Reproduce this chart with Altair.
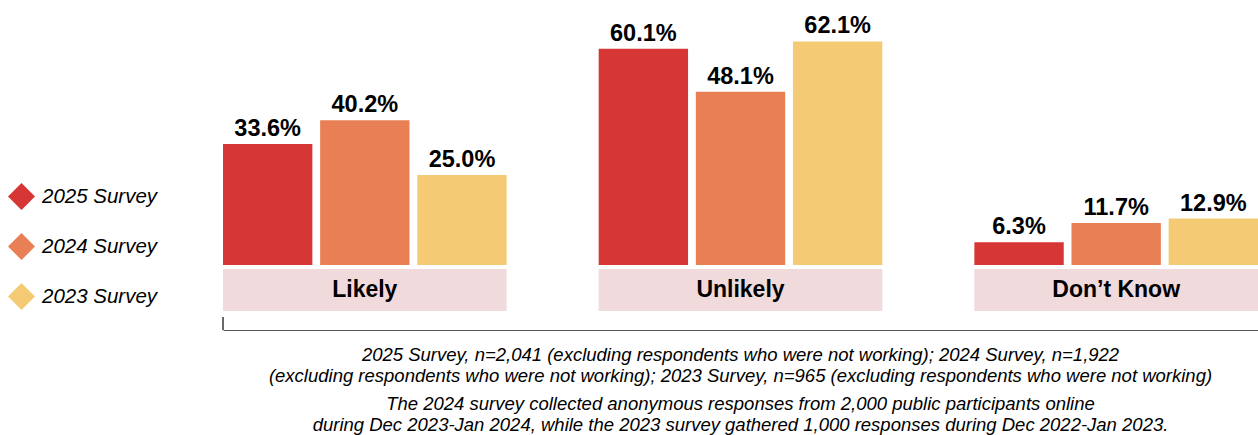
import altair as alt
import pandas as pd

# Survey answers by category
categories = ["Likely", "Unlikely", "Don\u2019t Know"]
surveys = ["2025 Survey", "2024 Survey", "2023 Survey"]
values_2025 = [33.6, 60.1, 6.3]
values_2024 = [40.2, 48.1, 11.7]
values_2023 = [25.0, 62.1, 12.9]
colors = ["#D63634", "#E98055", "#F4CB74"]

footnote_a = [
    "2025 Survey, n=2,041 (excluding respondents who were not working); 2024 Survey, n=1,922",
    "(excluding respondents who were not working); 2023 Survey, n=965 (excluding respondents who were not working)",
]
footnote_b = [
    "The 2024 survey collected anonymous responses from 2,000 public participants online",
    "during Dec 2023-Jan 2024, while the 2023 survey gathered 1,000 responses during Dec 2022-Jan 2023.",
]

rows = []
for s, vals in zip(surveys, [values_2025, values_2024, values_2023]):
    for c, v in zip(categories, vals):
        rows.append({"category": c, "survey": s, "value": v, "label": f"{v:.1f}%"})
df = pd.DataFrame(rows)
cat_df = pd.DataFrame({"category": categories})

FONT = "Liberation Sans"
W, H = 1035, 252

x = alt.X(
    "category:N",
    sort=categories,
    scale=alt.Scale(paddingInner=0.245, paddingOuter=0),
    axis=alt.Axis(labels=False, ticks=False, title=None, domain=True,
                  domainColor="#555555", domainWidth=1, offset=65, grid=False),
)
xoff = alt.XOffset("survey:N", sort=surveys,
                   scale=alt.Scale(paddingInner=0.08, paddingOuter=0))
y = alt.Y("value:Q", scale=alt.Scale(domain=[0, 70]), axis=None)
color = alt.Color(
    "survey:N",
    sort=surveys,
    scale=alt.Scale(domain=surveys, range=colors),
    legend=alt.Legend(
        orient="none", legendX=-215, legendY=170, title=None,
        symbolType="diamond", symbolSize=729, symbolStrokeWidth=0,
        symbolOpacity=1, labelFont=FONT, labelFontSize=20.5,
        labelFontStyle="italic", labelColor="black", labelOffset=7,
        rowPadding=23,
    ),
)

bars = alt.Chart(df).mark_bar().encode(x=x, xOffset=xoff, y=y, color=color)

labels = alt.Chart(df).mark_text(
    dy=-8, baseline="alphabetic", fontSize=23.5, fontWeight="bold", font=FONT, color="black"
).encode(x=x, xOffset=xoff, y=y, text="label:N")

band = alt.Chart(cat_df).mark_rect(color="#F0DADB").encode(
    x=x, y=alt.value(H + 4), y2=alt.value(H + 46)
)
band_text = alt.Chart(cat_df).mark_text(
    fontSize=23, fontWeight="bold", font=FONT, color="black", baseline="middle"
).encode(x=x, y=alt.value(H + 25), text="category:N")

corner = alt.Chart(cat_df).mark_rule(color="#555555", strokeWidth=1).encode(
    x=alt.value(0), y=alt.value(H + 52), y2=alt.value(H + 65)
)

chart = alt.layer(band, band_text, bars, labels, corner).properties(
    width=W,
    height=H,
    background="white",
    padding={"left": 223, "top": 13, "right": 0, "bottom": 170},
    autosize=alt.AutoSizeParams(type="none"),
    title=alt.Title(
        text=footnote_a,
        subtitle=footnote_b,
        orient="bottom",
        anchor="middle",
        font=FONT,
        fontSize=18.5,
        fontStyle="italic",
        fontWeight="normal",
        color="black",
        lineHeight=21.5,
        subtitleFont=FONT,
        subtitleFontSize=18.5,
        subtitleFontStyle="italic",
        subtitleColor="black",
        subtitleLineHeight=21,
        subtitlePadding=9,
        offset=15,
    ),
).configure_view(strokeWidth=0)

chart.save("out.html", embed_options={"renderer": "svg", "actions": False})
